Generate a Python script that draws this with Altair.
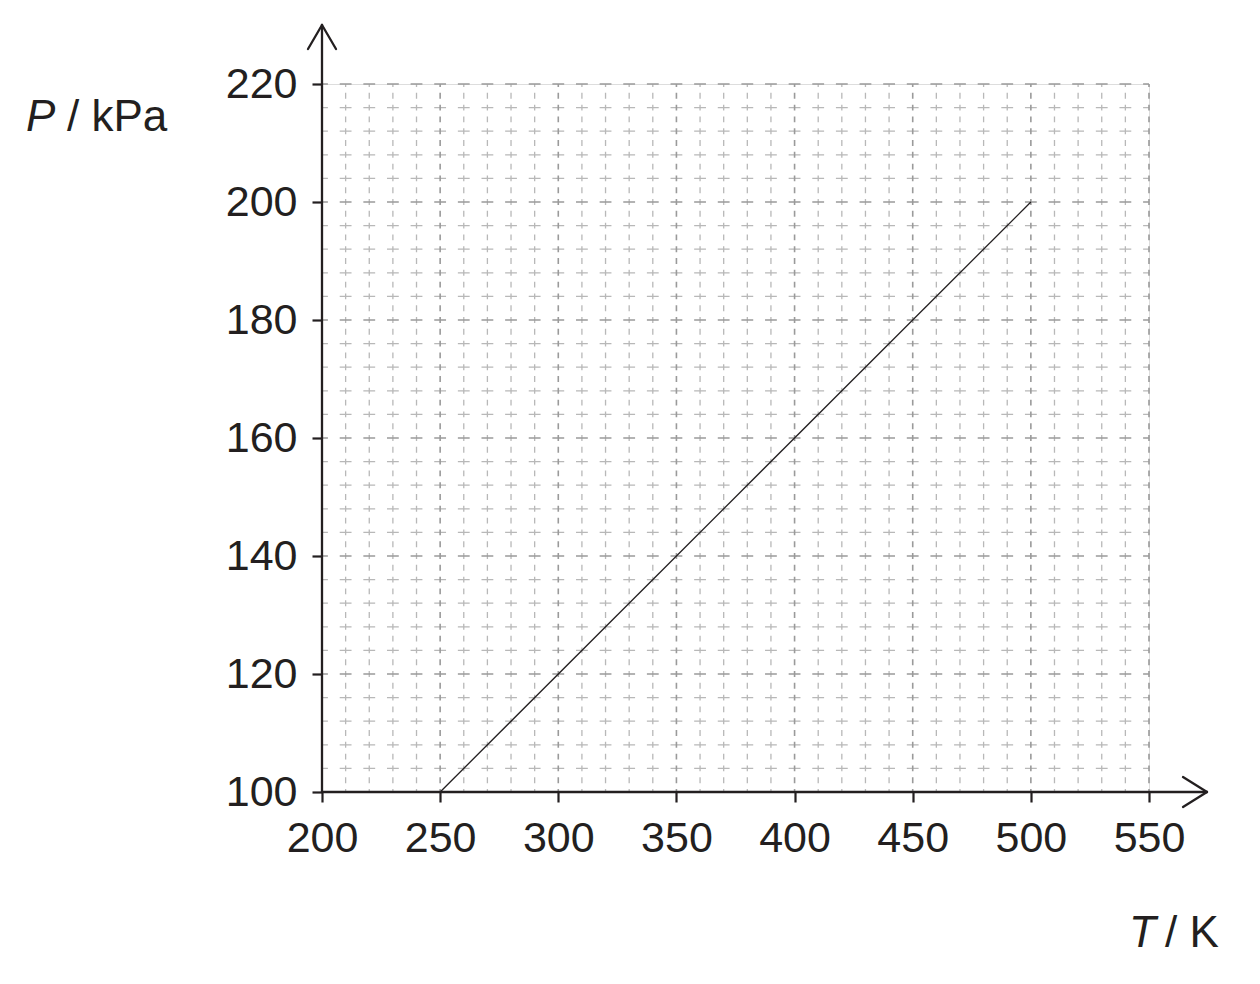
import altair as alt
import pandas as pd

# Data
T = [250, 500]
P = [100, 200]
x_ticks = [200, 250, 300, 350, 400, 450, 500, 550]
y_ticks = [100, 120, 140, 160, 180, 200, 220]
x_grid = list(range(210, 551, 10))
y_grid = list(range(104, 221, 4))

W, H = 827, 708
INK = "#231f20"
FONT = "Liberation Sans"

xs = alt.Scale(domain=[200, 550], nice=False, zero=False)
ys = alt.Scale(domain=[100, 220], nice=False, zero=False)

x_axis = alt.Axis(values=x_ticks, domain=False, ticks=True, tickColor=INK, tickWidth=2.2,
                  tickSize=10, labelFont=FONT, labelFontSize=43, labelColor=INK,
                  labelPadding=15, grid=False, title=None, labelFlush=False,
                  labelOverlap=False, format="d")
y_axis = alt.Axis(values=y_ticks, domain=False, ticks=True, tickColor=INK, tickWidth=2.2,
                  tickSize=10, labelFont=FONT, labelFontSize=43, labelColor=INK,
                  labelPadding=15, grid=False, title=None, labelOverlap=False, format="d")

vdf = pd.DataFrame({"x": x_grid, "y0": 100, "y1": 220})
vdf["major"] = vdf["x"] % 50 == 0
hdf = pd.DataFrame({"y": y_grid, "x0": 200, "x1": 550})
hdf["major"] = hdf["y"] % 20 == 0

def vlines(df, color, width):
    return alt.Chart(df).mark_rule(color=color, strokeWidth=width,
                                   strokeDash=[5.9, 5.9], strokeDashOffset=2.95).encode(
        x=alt.X("x:Q", scale=xs, axis=x_axis),
        y=alt.Y("y0:Q", scale=ys, axis=y_axis),
        y2="y1:Q",
    )

def hlines(df, color, width):
    p = W / 70.0
    return alt.Chart(df).mark_rule(color=color, strokeWidth=width,
                                   strokeDash=[p, p], strokeDashOffset=p / 2).encode(
        y=alt.Y("y:Q", scale=ys, axis=y_axis),
        x=alt.X("x0:Q", scale=xs, axis=x_axis),
        x2="x1:Q",
    )

minor_v = vlines(vdf[~vdf["major"]], "#b8b8b8", 1.3)
minor_h = hlines(hdf[~hdf["major"]], "#b8b8b8", 1.3)
major_v = vlines(vdf[vdf["major"]], "#9a9a9a", 1.6)
major_h = hlines(hdf[hdf["major"]], "#9a9a9a", 1.6)

line_df = pd.DataFrame({"T": T, "P": P})
data_line = alt.Chart(line_df).mark_line(color=INK, strokeWidth=1.3).encode(
    x=alt.X("T:Q", scale=xs, axis=x_axis),
    y=alt.Y("P:Q", scale=ys, axis=y_axis),
)

dummy = pd.DataFrame({"a": [0]})

def seg(x1, y1, x2, y2):
    return alt.Chart(dummy).mark_rule(color=INK, strokeWidth=2.3, strokeCap="round").encode(
        x=alt.value(x1), y=alt.value(y1), x2=alt.value(x2), y2=alt.value(y2))

axes_lines = [
    seg(0, H, 885, H),           # x axis line with extension
    seg(0, H, 0, -59),           # y axis line with extension
    seg(885, H, 861, H - 15),    # x arrow
    seg(885, H, 861, H + 15),
    seg(0, -59, -14, -35),       # y arrow
    seg(0, -59, 14, -35),
]

def txt(s, x, y, italic=False):
    return alt.Chart(dummy).mark_text(font=FONT, fontSize=44, color=INK, align="left",
                                      baseline="alphabetic",
                                      fontStyle="italic" if italic else "normal").encode(
        x=alt.value(x), y=alt.value(y), text=alt.value(s))

titles = [
    txt("P", -296, 47, italic=True),
    txt("/ kPa", -255, 47),
    txt("T", 807, 863, italic=True),
    txt("/ K", 843, 863),
]

chart = alt.layer(minor_v, minor_h, major_v, major_h, data_line, *axes_lines, *titles).properties(
    width=W, height=H,
    autosize=alt.AutoSizeParams(type="none"),
    padding={"left": 314, "top": 76, "right": 90, "bottom": 170},
).configure_view(stroke=None).configure(background="white")

chart.save("out.html", embed_options={"renderer": "svg", "actions": False})
